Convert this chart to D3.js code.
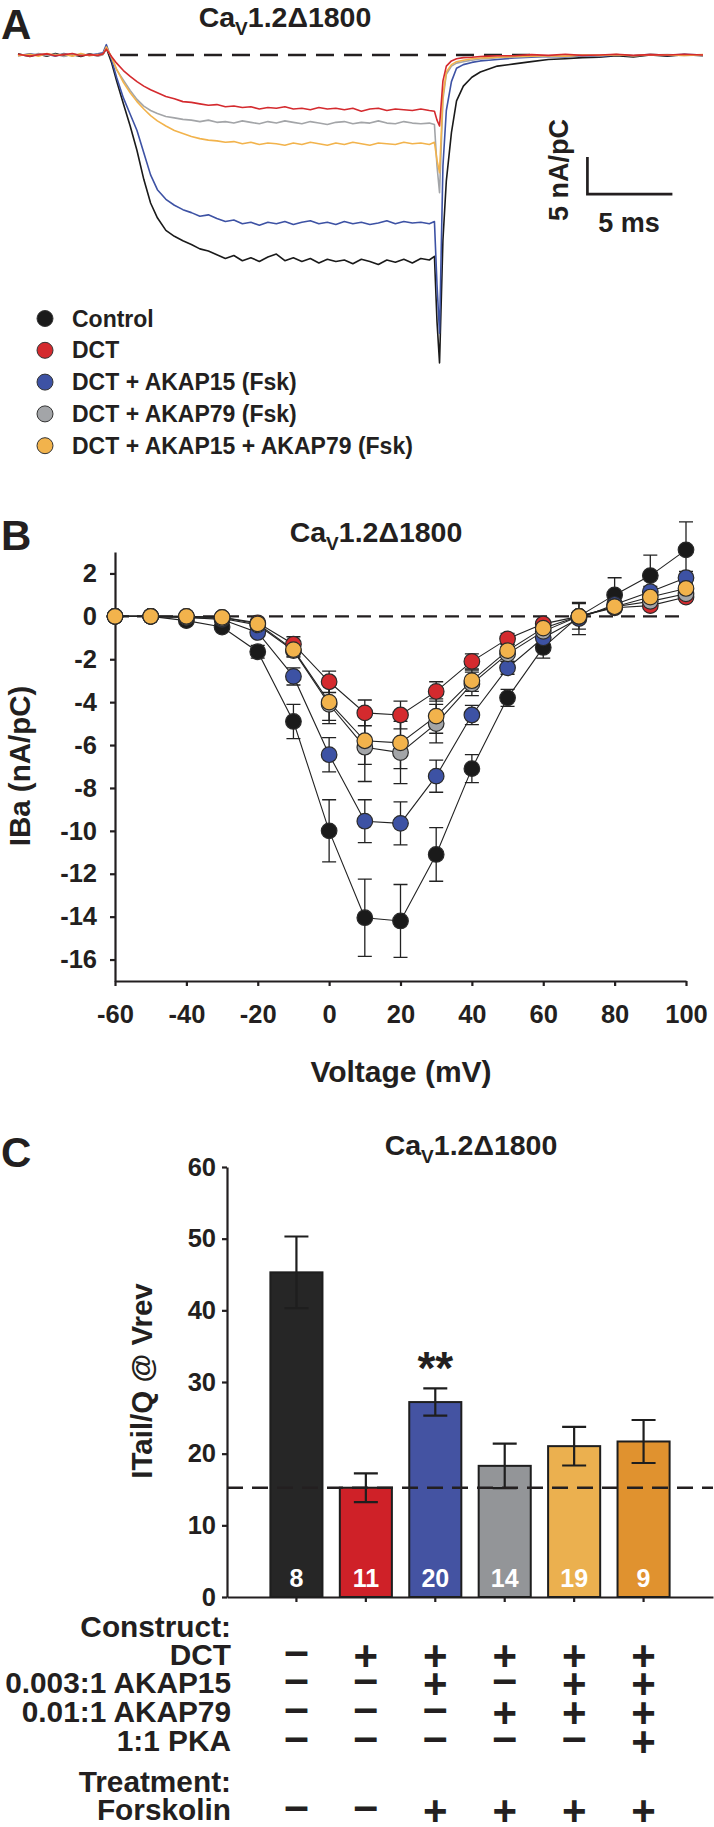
<!DOCTYPE html>
<html><head><meta charset="utf-8">
<script src="https://cdn.jsdelivr.net/npm/d3@7/dist/d3.min.js"></script>
<style>
body{margin:0;background:#fff;}
svg{display:block;font-family:"Liberation Sans",Arial,Helvetica,sans-serif;font-weight:bold;}
</style></head><body>
<svg id="fig" width="714" height="1827"></svg>
<script>
// ================= DATA =================
// Panel A : representative traces (time in ms, current in nA/pC)
const traceTime = [-5.2,-4.5,-4,-3.5,-3,-2.5,-2,-1.5,-1,-0.5,-0.2,0,0.3,0.6,1,1.4,1.8,2.2,2.6,3,3.5,4,4.5,5,5.5,6,6.5,7,7.5,8,8.5,9,9.5,10,10.5,11,11.5,12,12.5,13,13.5,14,14.5,15,15.5,16,16.5,17,17.5,18,18.5,19,19.3,19.45,19.6,19.8,20,20.3,20.6,21,21.5,22,22.5,23,24,25,26,27,28,29,30,31,32,33,34,35.1];
const traceControl = [0.15,-0.2,0.1,-0.15,0.2,-0.1,0.05,-0.2,0.15,-0.1,0.1,0.9,-1.0,-3.5,-6.6,-9.6,-12.9,-16.8,-20.0,-22.0,-23.7,-24.5,-25.1,-25.6,-26.2,-26.5,-27.0,-27.5,-27.1,-27.8,-27.4,-27.9,-27.3,-26.9,-27.8,-27.4,-27.9,-27.5,-28.1,-27.6,-27.9,-27.7,-28.2,-27.6,-27.9,-28.3,-27.7,-28.0,-27.6,-28.1,-27.5,-27.7,-27.2,-36.0,-41.6,-25.0,-17.0,-10.5,-6.2,-4.2,-3.0,-2.3,-1.9,-1.5,-1.2,-0.9,-0.6,-0.5,-0.35,-0.3,-0.1,-0.25,0.0,-0.15,0.05,-0.1];
const traceAKAP15 = [-0.1,0.15,-0.05,0.1,-0.15,0.2,-0.1,0.1,-0.05,0.15,0.3,1.4,-0.6,-3.0,-5.8,-8.0,-10.2,-13.2,-16.2,-18.2,-19.5,-20.3,-20.9,-21.3,-21.8,-21.6,-22.1,-22.5,-22.3,-22.8,-22.6,-23.0,-22.6,-22.8,-22.5,-22.9,-22.6,-22.4,-22.8,-22.6,-22.9,-22.5,-22.8,-22.6,-22.9,-22.7,-22.4,-22.8,-22.5,-22.7,-22.6,-22.8,-22.5,-31.0,-37.6,-15.0,-7.5,-3.6,-1.8,-1.3,-1.0,-0.8,-0.7,-0.6,-0.4,-0.3,-0.2,-0.25,-0.1,-0.2,0.0,-0.1,0.1,-0.05,0.1,0.0];
const traceAKAP79 = [0.05,-0.1,0.2,-0.05,0.1,-0.2,0.15,-0.05,0.1,-0.15,0.05,0.9,-0.3,-2.0,-3.4,-4.8,-6.0,-6.9,-7.5,-7.9,-8.3,-8.5,-8.7,-8.8,-9.0,-8.8,-9.1,-9.0,-9.2,-8.9,-9.1,-9.3,-9.0,-9.2,-8.9,-9.1,-9.3,-9.0,-9.2,-9.4,-9.1,-9.0,-9.3,-9.1,-9.2,-8.9,-9.2,-9.3,-9.0,-9.2,-9.3,-9.2,-9.4,-15.0,-18.6,-6.0,-2.6,-1.5,-1.1,-0.9,-0.7,-0.55,-0.45,-0.35,-0.3,-0.2,-0.15,-0.2,-0.05,-0.1,0.05,-0.1,0.0,0.05,-0.05,0.0];
const traceBoth = [-0.1,0.1,-0.15,0.2,-0.05,0.1,-0.15,0.2,-0.1,0.05,0.1,1.1,-0.3,-1.9,-3.7,-5.1,-6.3,-7.3,-8.2,-8.9,-9.6,-10.2,-10.6,-11.0,-11.3,-11.5,-11.6,-11.8,-11.7,-12.0,-11.8,-12.1,-11.9,-12.0,-12.2,-11.9,-12.1,-11.8,-12.0,-12.2,-11.9,-12.1,-11.8,-12.0,-12.2,-11.9,-12.0,-12.1,-11.8,-12.0,-11.9,-12.1,-11.8,-14.2,-15.9,-5.5,-2.3,-1.3,-0.9,-0.7,-0.5,-0.4,-0.35,-0.3,-0.2,-0.15,-0.1,-0.15,0.0,-0.05,0.05,-0.1,0.05,0.0,-0.05,0.05];
const traceDCT = [0.1,-0.15,0.05,0.15,-0.1,0.05,0.2,-0.1,0.05,-0.05,0.15,0.8,-0.2,-1.1,-2.1,-2.9,-3.6,-4.2,-4.7,-5.1,-5.6,-5.9,-6.3,-6.4,-6.6,-6.8,-6.7,-7.0,-6.9,-7.1,-7.0,-7.3,-7.1,-7.2,-7.0,-7.3,-7.2,-7.4,-7.1,-7.3,-7.2,-7.4,-7.2,-7.6,-7.3,-7.2,-7.5,-7.3,-7.4,-7.5,-7.3,-7.5,-7.6,-8.8,-9.6,-3.5,-1.5,-0.8,-0.5,-0.35,-0.3,-0.2,-0.15,-0.1,-0.1,0.05,-0.05,0.1,-0.05,0.0,0.1,-0.05,0.05,0.0,0.1,0.0];

const seriesNames = ["Control","DCT","DCT + AKAP15 (Fsk)","DCT + AKAP79 (Fsk)","DCT + AKAP15 + AKAP79 (Fsk)"];
const seriesColors = ["#1a1a1a","#d42a2e","#3d52a4","#a3a5a8","#f2b34c"];

// Panel B : I-V relationship
const voltages = [-60,-50,-40,-30,-20,-10,0,10,20,30,40,50,60,70,80,90,100];
const ivControl = [0,0,-0.2,-0.5,-1.65,-4.9,-10.0,-14.05,-14.2,-11.1,-7.1,-3.8,-1.45,0,1.0,1.9,3.1];
const ivControlErr = [0,0,0.05,0.1,0.3,0.8,1.45,1.8,1.7,1.25,0.65,0.4,0.5,0.6,0.8,0.95,1.3];
const ivDCT = [0,0,0,-0.05,-0.3,-1.3,-3.05,-4.5,-4.6,-3.5,-2.1,-1.05,-0.35,0,0.4,0.5,0.9];
const ivDCTErr = [0,0,0,0.05,0.1,0.35,0.5,0.6,0.65,0.45,0.35,0.25,0.2,0.2,0.15,0.15,0.2];
const ivAKAP15 = [0,0,-0.05,-0.15,-0.75,-2.8,-6.45,-9.55,-9.65,-7.45,-4.6,-2.4,-1.0,-0.1,0.55,1.15,1.8];
const ivAKAP15Err = [0,0,0,0.05,0.15,0.4,0.8,1.0,1.0,0.75,0.45,0.3,0.3,0.75,0.2,0.25,0.3];
const ivAKAP79 = [0,0,-0.05,-0.1,-0.4,-1.6,-4.1,-6.1,-6.35,-5.0,-3.15,-1.75,-0.7,0,0.45,0.7,1.05];
const ivAKAP79Err = [0,0,0,0.05,0.1,0.3,0.9,1.6,1.45,0.9,0.55,0.35,0.25,0.2,0.2,0.2,0.2];
const ivBoth = [0,0,0,-0.05,-0.35,-1.55,-4.0,-5.8,-5.9,-4.65,-3.0,-1.6,-0.55,0,0.45,0.9,1.3];
const ivBothErr = [0,0,0,0.05,0.1,0.3,0.85,1.1,1.2,0.8,0.5,0.3,0.2,0.2,0.15,0.2,0.25];
const ivTicksY = [2,0,-2,-4,-6,-8,-10,-12,-14,-16];
const ivTicksX = [-60,-40,-20,0,20,40,60,80,100];

// Panel C : tail current / charge
const barCats = ["Control","DCT","DCT+AKAP15","DCT+AKAP79","DCT+AKAP15+AKAP79","DCT+AKAP15+AKAP79+PKA"];
const barValues = [45.3,15.25,27.2,18.3,21.05,21.7];
const barErrors = [5.0,2.0,1.9,3.1,2.7,3.0];
const barN = [8,11,20,14,19,9];
const barColors = ["#262626","#cf2128","#4453a2","#939598","#ebb04f","#e0922f"];
const barTicksY = [0,10,20,30,40,50,60];
const dctLevel = 15.25;
const tableRows = ["DCT","0.003:1 AKAP15","0.01:1 AKAP79","1:1 PKA","Forskolin"];
const rowDCT = [0,1,1,1,1,1];
const rowAKAP15 = [0,0,1,0,1,1];
const rowAKAP79 = [0,0,0,1,1,1];
const rowPKA = [0,0,0,0,0,1];
const rowFsk = [0,0,1,1,1,1];

// ================= DRAWING =================
const svg = d3.select("#fig");
const ink = "#231f20";

function panelLetter(t, y){
  svg.append("text").attr("x",1).attr("y",y).attr("font-size",42).attr("fill",ink).text(t);
}
function cavTitle(cx, y){
  const t = svg.append("text").attr("x",cx).attr("y",y).attr("text-anchor","middle")
    .attr("font-size",28.5).attr("fill",ink);
  t.append("tspan").text("Ca");
  t.append("tspan").attr("font-size",19).attr("dy",8).text("V");
  t.append("tspan").attr("dy",-8).text("1.2\u03941800");
}

// ----- Panel A -----
panelLetter("A", 38.5);
cavTitle(285, 26.5);
const xA = d3.scaleLinear().domain([-5.2, 35.1]).range([18, 703]);
const yA = d3.scaleLinear().domain([0, -42]).range([55, 55 + 42*7.4]);
svg.append("line").attr("x1",xA(0.8)).attr("x2",xA(25)).attr("y1",yA(0)).attr("y2",yA(0))
  .attr("stroke",ink).attr("stroke-width",2.6).attr("stroke-dasharray","18,10");
const traces = [traceControl, traceAKAP15, traceAKAP79, traceBoth, traceDCT];
const traceColorIdx = [0,2,3,4,1];
const lineA = d3.line().x((d,i)=>xA(traceTime[i])).y(d=>yA(d));
traces.forEach((tr,k)=>{
  svg.append("path").datum(tr).attr("d",lineA).attr("fill","none")
    .attr("stroke",seriesColors[traceColorIdx[k]]).attr("stroke-width",1.6)
    .attr("stroke-linejoin","round");
});
// scale bar
const sbT = 28.3, sbI = -18.8;
svg.append("path").attr("d",`M${xA(sbT)},${yA(sbI+5)}L${xA(sbT)},${yA(sbI)}L${xA(sbT+5)},${yA(sbI)}`)
  .attr("fill","none").attr("stroke",ink).attr("stroke-width",2.7);
svg.append("text").attr("transform","translate(568,170) rotate(-90)").attr("text-anchor","middle")
  .attr("font-size",27).attr("fill",ink).text("5 nA/pC");
svg.append("text").attr("x",629).attr("y",232).attr("text-anchor","middle")
  .attr("font-size",27).attr("fill",ink).text("5 ms");
// legend
seriesNames.forEach((n,i)=>{
  const cy = 318.5 + i*31.8;
  svg.append("circle").attr("cx",45).attr("cy",cy).attr("r",8)
    .attr("fill",seriesColors[i]).attr("stroke","#333").attr("stroke-width",1);
  svg.append("text").attr("x",72).attr("y",cy+8).attr("font-size",23).attr("fill",ink).text(n);
});

// ----- Panel B -----
panelLetter("B", 550);
cavTitle(376, 542);
const xB = d3.scaleLinear().domain([-60,100]).range([115,686]);
const yB = d3.scaleLinear().domain([-17,3]).range([981,552]);
svg.append("line").attr("x1",xB(-60)).attr("x2",xB(100)).attr("y1",yB(0)).attr("y2",yB(0))
  .attr("stroke",ink).attr("stroke-width",2.4).attr("stroke-dasharray","14,8");
const gyB = svg.append("g").attr("transform","translate(115,0)")
  .call(d3.axisLeft(yB).tickValues(ivTicksY).tickSize(5).tickSizeOuter(0).tickPadding(13).tickFormat(d3.format("d")));
const gxB = svg.append("g").attr("transform","translate(0,981)")
  .call(d3.axisBottom(xB).tickValues(ivTicksX).tickSize(5).tickSizeOuter(0).tickPadding(19).tickFormat(d3.format("d")));
[gyB,gxB].forEach(g=>{
  g.selectAll("path,line").attr("stroke",ink).attr("stroke-width",2.2);
  g.selectAll("text").attr("font-size",25.5).attr("font-family","Liberation Sans, Arial, sans-serif")
    .attr("font-weight","bold").attr("fill",ink);
});
gyB.selectAll("text").text(d=> d<0 ? "-"+Math.abs(d) : d);
gxB.selectAll("text").text(d=> d<0 ? "-"+Math.abs(d) : d);
svg.append("text").attr("transform","translate(30,766) rotate(-90)").attr("text-anchor","middle")
  .attr("font-size",29.5).attr("fill",ink).text("IBa (nA/pC)");
svg.append("text").attr("x",401).attr("y",1082).attr("text-anchor","middle")
  .attr("font-size",30).attr("fill",ink).text("Voltage (mV)");

const ivSeries = [
  {v:ivControl, e:ivControlErr, c:seriesColors[0]},
  {v:ivAKAP15, e:ivAKAP15Err, c:seriesColors[2]},
  {v:ivDCT, e:ivDCTErr, c:seriesColors[1]},
  {v:ivAKAP79, e:ivAKAP79Err, c:seriesColors[3]},
  {v:ivBoth, e:ivBothErr, c:seriesColors[4]}
];
const lineB = d3.line().x((d,i)=>xB(voltages[i])).y(d=>yB(d));
ivSeries.forEach(s=>{
  svg.append("path").datum(s.v).attr("d",lineB).attr("fill","none").attr("stroke","#222").attr("stroke-width",1.1);
});
ivSeries.forEach(s=>{
  const g = svg.append("g");
  s.v.forEach((val,i)=>{
    const err = s.e[i];
    if(err>0.12){
      const x = xB(voltages[i]);
      g.append("path").attr("d",`M${x},${yB(val+err)}V${yB(val-err)}M${x-7},${yB(val+err)}H${x+7}M${x-7},${yB(val-err)}H${x+7}`)
        .attr("stroke","#222").attr("stroke-width",1.3).attr("fill","none");
    }
  });
});
ivSeries.forEach(s=>{
  svg.append("g").selectAll("circle").data(s.v).join("circle")
    .attr("cx",(d,i)=>xB(voltages[i])).attr("cy",d=>yB(d)).attr("r",7.8)
    .attr("fill",s.c).attr("stroke","#2a2a2a").attr("stroke-width",1.2);
});

// ----- Panel C -----
panelLetter("C", 1167);
cavTitle(471, 1155);
const xC = d3.scaleBand().domain(barCats).range([227,713]).paddingInner(0.25).paddingOuter(0.625);
const yC = d3.scaleLinear().domain([0,60]).range([1597,1167]);
const gyC = svg.append("g").attr("transform","translate(227,0)")
  .call(d3.axisLeft(yC).tickValues(barTicksY).tickSize(5).tickSizeOuter(0).tickPadding(6));
const gxC = svg.append("g").attr("transform","translate(0,1597)")
  .call(d3.axisBottom(xC).tickSize(5).tickSizeOuter(0).tickFormat(""));
[gyC,gxC].forEach(g=>{
  g.selectAll("path,line").attr("stroke",ink).attr("stroke-width",2.2);
  g.selectAll("text").attr("font-size",25.5).attr("font-family","Liberation Sans, Arial, sans-serif")
    .attr("font-weight","bold").attr("fill",ink);
});
svg.append("text").attr("transform","translate(152,1381) rotate(-90)").attr("text-anchor","middle")
  .attr("font-size",29.5).attr("fill",ink).text("ITail/Q @ Vrev");

svg.append("g").selectAll("rect").data(barValues).join("rect")
  .attr("x",(d,i)=>xC(barCats[i])).attr("width",xC.bandwidth())
  .attr("y",d=>yC(d)).attr("height",d=>yC(0)-yC(d))
  .attr("fill",(d,i)=>barColors[i]).attr("stroke","#1e1e1e").attr("stroke-width",2);
barValues.forEach((v,i)=>{
  const x = xC(barCats[i]) + xC.bandwidth()/2, e = barErrors[i];
  svg.append("path").attr("d",`M${x},${yC(v+e)}V${yC(v-e)}M${x-12},${yC(v+e)}H${x+12}M${x-12},${yC(v-e)}H${x+12}`)
    .attr("stroke","#1e1e1e").attr("stroke-width",2.2).attr("fill","none");
  svg.append("text").attr("x",x).attr("y",1587).attr("text-anchor","middle")
    .attr("font-size",25).attr("fill","#fff").text(barN[i]);
});
svg.append("line").attr("x1",227).attr("x2",713).attr("y1",yC(dctLevel)).attr("y2",yC(dctLevel))
  .attr("stroke",ink).attr("stroke-width",2.4).attr("stroke-dasharray","16,9");
svg.append("text").attr("x",xC(barCats[2])+xC.bandwidth()/2).attr("y",1384).attr("text-anchor","middle")
  .attr("font-size",46).attr("fill",ink).text("**");

// table
const tableFont = 29.8;
svg.append("text").attr("x",231).attr("y",1637).attr("text-anchor","end").attr("font-size",tableFont).attr("fill",ink).text("Construct:");
svg.append("text").attr("x",231).attr("y",1792).attr("text-anchor","end").attr("font-size",tableFont).attr("fill",ink).text("Treatment:");
const rowY = [1665,1693,1722,1751,1820];
const rowVals = [rowDCT,rowAKAP15,rowAKAP79,rowPKA,rowFsk];
tableRows.forEach((lab,r)=>{
  svg.append("text").attr("x",231).attr("y",rowY[r]).attr("text-anchor","end").attr("font-size",tableFont).attr("fill",ink).text(lab);
  rowVals[r].forEach((on,i)=>{
    const x = xC(barCats[i]) + xC.bandwidth()/2;
    svg.append("text").attr("x",x).attr("y",on ? rowY[r]+5 : rowY[r]+1).attr("text-anchor","middle")
      .attr("font-size",on ? 42 : 44).attr("fill",ink).text(on ? "+" : "\u2013");
  });
});
</script>
</body></html>
